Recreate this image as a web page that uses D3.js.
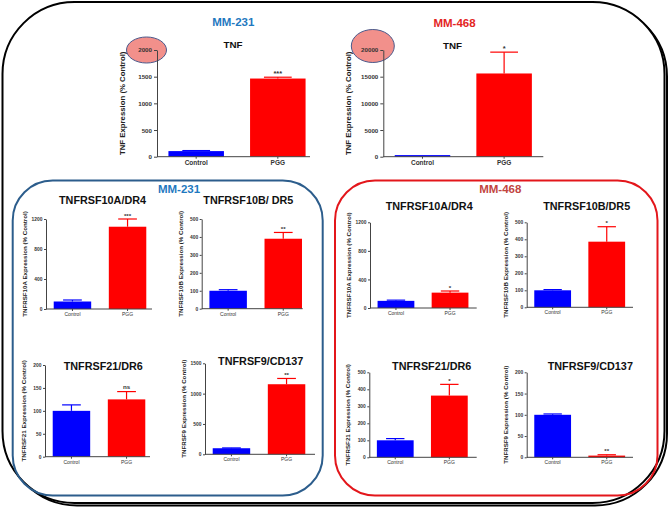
<!DOCTYPE html>
<html>
<head>
<meta charset="utf-8">
<script src="https://cdn.jsdelivr.net/npm/d3@7"></script>
<style>
body { margin: 0; background: #fff; }
svg { display: block; font-family: "Liberation Sans", Arial, sans-serif; }
</style>
</head>
<body>
<svg width="669" height="508"></svg>
<script>
// ---- data ----
var categories = ["Control", "PGG"];
var cellLines = ["MM-231", "MM-468"];
var panelTitles = ["TNF", "TNF",
  "TNFRSF10A/DR4", "TNFRSF10B/ DR5", "TNFRSF21/DR6", "TNFRSF9/CD137",
  "TNFRSF10A/DR4", "TNFRSF10B/DR5", "TNFRSF21/DR6", "TNFRSF9/CD137"];
var yLabels = ["TNF Expression (% Control)", "TNF Expression (% Control)",
  "TNFRSF10A Expression (%  Control)", "TNFRSF10B Expression (%  Control)",
  "TNFRSF21 Expression (%  Control)", "TNFRSF9 Expression (%  Control)",
  "TNFRSF10A Expression (%  Control)", "TNFRSF10B Expression (%  Control)",
  "TNFRSF21 Expression (%  Control)", "TNFRSF9 Expression (%  Control)"];
var yTicks = [[0, 500, 1000, 1500, 2000], [0, 5000, 10000, 15000, 20000],
  [0, 400, 800, 1200], [0, 100, 200, 300, 400, 500], [0, 50, 100, 150, 200], [0, 500, 1000, 1500],
  [0, 400, 800, 1200], [0, 100, 200, 300, 400, 500], [0, 100, 200, 300, 400, 500], [0, 50, 100, 150, 200]];
var controlMean = [105, 300, 100, 100, 100, 100, 100, 100, 100, 100];
var controlSem  = [10, 0, 20, 6, 13, 5, 10, 4, 10, 2];
var pggMean = [1465, 15600, 1097, 390, 125, 1155, 215, 386, 363, 4];
var pggSem  = [25, 4000, 103, 35, 17, 95, 23, 88, 66, 2];
var signif = ["***", "*", "***", "**", "ns", "**", "*", "*", "*", "**"];

var blue = "#0000ff", red = "#ff0000";

// layout of each panel (axis origin, lengths, title spot)
var layout = [
  {x0: 157, axisLen: 153, bandLen: 160, yTop: 50, yBot: 156.7, tx: 233, ty: 48.3, big: true},
  {x0: 383.3, axisLen: 160, bandLen: 160, yTop: 50, yBot: 156.7, tx: 452.5, ty: 49, big: true},
  {x0: 46, axisLen: 106, bandLen: 108, yTop: 219, yBot: 309, tx: 102.5, ty: 204},
  {x0: 201.7, axisLen: 101, bandLen: 108, yTop: 219, yBot: 308.7, tx: 248.3, ty: 204},
  {x0: 45, axisLen: 105, bandLen: 108, yTop: 365, yBot: 456.7, tx: 103.3, ty: 370},
  {x0: 205, axisLen: 110, bandLen: 108, yTop: 363.3, yBot: 454.3, tx: 260.7, ty: 365},
  {x0: 370, axisLen: 106.7, bandLen: 106, yTop: 222.3, yBot: 308, tx: 429.2, ty: 210},
  {x0: 526.7, axisLen: 106.3, bandLen: 106, yTop: 222.3, yBot: 307.3, tx: 586.7, ty: 210},
  {x0: 369.3, axisLen: 107.4, bandLen: 106, yTop: 372.3, yBot: 457.3, tx: 431.7, ty: 370},
  {x0: 526.7, axisLen: 106.3, bandLen: 106, yTop: 372.3, yBot: 457.3, tx: 590.3, ty: 370}
];

var svg = d3.select("svg");

// outer frame with a little shadow
svg.append("rect").attr("x", 5).attr("y", 4.5).attr("width", 662).attr("height", 501)
  .attr("rx", 72).attr("fill", "none").attr("stroke", "#000").attr("stroke-width", 2);
svg.append("rect").attr("x", 2.5).attr("y", 2).attr("width", 662).attr("height", 501)
  .attr("rx", 72).attr("fill", "#fff").attr("stroke", "#000").attr("stroke-width", 2);

// group boxes
svg.append("rect").attr("x", 12.7).attr("y", 180.5).attr("width", 310).attr("height", 315)
  .attr("rx", 40).attr("fill", "none").attr("stroke", "#2c5d8c").attr("stroke-width", 2);
svg.append("rect").attr("x", 335).attr("y", 180.5).attr("width", 322.5).attr("height", 315)
  .attr("rx", 40).attr("fill", "none").attr("stroke", "#e3161b").attr("stroke-width", 2);

// cell line labels
var cellLabelPos = [
  {x: 233.3, y: 26, c: "#1f79bf"}, {x: 454.5, y: 26.7, c: "#e3261f"},
  {x: 179, y: 193.3, c: "#1f79bf"}, {x: 500.3, y: 192.7, c: "#c2453f"}
];
cellLabelPos.forEach(function(p, i) {
  svg.append("text").attr("x", p.x).attr("y", p.y).attr("text-anchor", "middle")
    .attr("font-size", 11.5).attr("font-weight", "bold").attr("fill", p.c)
    .text(cellLines[i % 2]);
});

layout.forEach(function(L, i) {
  var g = svg.append("g");
  var big = !!L.big;
  var x = d3.scaleBand().domain(categories).range([L.x0, L.x0 + L.bandLen])
    .paddingInner(0.32).paddingOuter(0.14);
  var y = d3.scaleLinear().domain([0, d3.max(yTicks[i])]).range([L.yBot, L.yTop]);

  // highlight ellipse on top tick of the TNF panels
  if (big) {
    g.append("ellipse").attr("cx", L.x0 - 10.5).attr("cy", y(d3.max(yTicks[i])) - (i === 1 ? 4 : 0))
      .attr("rx", i === 1 ? 21.5 : 20).attr("ry", i === 1 ? 16.5 : 13)
      .attr("fill", "#f2908b").attr("stroke", "#4b5a8c").attr("stroke-width", 1);
  }

  var means = [controlMean[i], pggMean[i]];
  var sems = [controlSem[i], pggSem[i]];
  var cols = [blue, red];

  g.selectAll("rect.bar").data(categories).enter().append("rect")
    .attr("class", "bar")
    .attr("x", function(d) { return x(d); })
    .attr("width", x.bandwidth())
    .attr("y", function(d, k) { return y(means[k]); })
    .attr("height", function(d, k) { return L.yBot - y(means[k]); })
    .attr("fill", function(d, k) { return cols[k]; });

  // upper error bars
  categories.forEach(function(d, k) {
    if (sems[k] <= 0) return;
    var cx = x(d) + x.bandwidth() / 2;
    var top = y(means[k] + sems[k]);
    g.append("line").attr("x1", cx).attr("x2", cx).attr("y1", y(means[k])).attr("y2", top)
      .attr("stroke", cols[k]).attr("stroke-width", 1.2);
    g.append("line").attr("x1", cx - x.bandwidth() / 4).attr("x2", cx + x.bandwidth() / 4)
      .attr("y1", top).attr("y2", top).attr("stroke", cols[k]).attr("stroke-width", 1.2);
  });

  // significance mark over PGG
  var pc = x("PGG") + x.bandwidth() / 2;
  g.append("text").attr("x", pc).attr("y", y(pggMean[i] + pggSem[i]) - (signif[i] === "ns" ? 3 : 1.5))
    .attr("text-anchor", "middle").attr("font-size", big ? 7.5 : 6.2).attr("font-weight", "bold")
    .attr("fill", "#333").text(signif[i]);

  // y axis
  var ya = g.append("g").attr("transform", "translate(" + L.x0 + ",0)")
    .call(d3.axisLeft(y).tickValues(yTicks[i]).tickSize(big ? 3 : 2).tickPadding(big ? 2 : 1.5)
      .tickFormat(d3.format("d")).tickSizeOuter(0));
  ya.select(".domain").attr("stroke", "#444");
  ya.selectAll(".tick line").attr("stroke", "#444");
  ya.selectAll("text").attr("font-size", big ? 6.2 : 4.9).attr("font-weight", "bold")
    .attr("fill", "#333").style("font-family", "inherit");

  // x axis
  g.append("line").attr("x1", L.x0).attr("x2", L.x0 + L.axisLen)
    .attr("y1", L.yBot).attr("y2", L.yBot).attr("stroke", "#444").attr("stroke-width", 1);
  var xa = g.append("g").attr("transform", "translate(0," + L.yBot + ")")
    .call(d3.axisBottom(x).tickSize(2).tickPadding(big ? 2 : 1.5));
  xa.select(".domain").remove();
  xa.selectAll(".tick line").attr("stroke", "#444");
  xa.selectAll("text").attr("font-size", big ? 6.5 : 5)
    .attr("font-weight", big ? "bold" : "normal").attr("fill", "#333").style("font-family", "inherit");

  // y label
  g.append("text")
    .attr("transform", "translate(" + (L.x0 - (big ? 35 : 21.5)) + "," + ((L.yTop + L.yBot) / 2) + ") rotate(-90)")
    .attr("text-anchor", "middle").attr("dominant-baseline", "central")
    .attr("font-size", big ? 7.8 : 6.2).attr("font-weight", "bold").attr("fill", "#222")
    .text(yLabels[i]);

  // title
  g.append("text").attr("x", L.tx).attr("y", L.ty).attr("text-anchor", "middle")
    .attr("font-size", big ? 9.8 : 10.8).attr("font-weight", "bold").attr("fill", "#111")
    .text(panelTitles[i]);
});
</script>
</body>
</html>
